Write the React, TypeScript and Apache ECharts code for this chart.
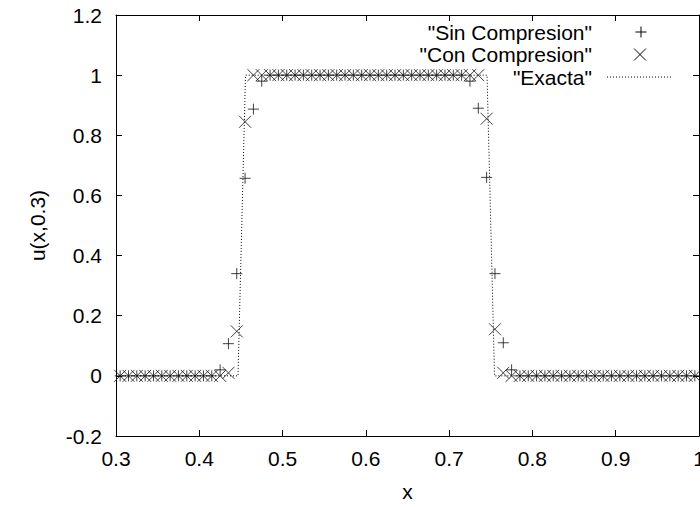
import React, { useEffect, useRef } from "react";
import * as echarts from "echarts";

const FONT = '"Liberation Sans", Arial, Helvetica, sans-serif';

// x positions of the numerical solution (cell centres)
const xs = [
  0.305, 0.315, 0.325, 0.335, 0.345, 0.355, 0.365, 0.375, 0.385, 0.395,
  0.405, 0.415, 0.425, 0.435, 0.445, 0.455, 0.465, 0.475, 0.485, 0.495,
  0.505, 0.515, 0.525, 0.535, 0.545, 0.555, 0.565, 0.575, 0.585, 0.595,
  0.605, 0.615, 0.625, 0.635, 0.645, 0.655, 0.665, 0.675, 0.685, 0.695,
  0.705, 0.715, 0.725, 0.735, 0.745, 0.755, 0.765, 0.775, 0.785, 0.795,
  0.805, 0.815, 0.825, 0.835, 0.845, 0.855, 0.865, 0.875, 0.885, 0.895,
  0.905, 0.915, 0.925, 0.935, 0.945, 0.955, 0.965, 0.975, 0.985, 0.995,
];

const sinCompresion = [
  0, 0, 0, 0, 0, 0, 0, 0, 0, 0,
  0, 0, 0.02, 0.107, 0.34, 0.657, 0.887, 0.98, 1, 1,
  1, 1, 1, 1, 1, 1, 1, 1, 1, 1,
  1, 1, 1, 1, 1, 1, 1, 1, 1, 1,
  1, 1, 0.98, 0.89, 0.66, 0.34, 0.11, 0.02, 0, 0,
  0, 0, 0, 0, 0, 0, 0, 0, 0, 0,
  0, 0, 0, 0, 0, 0, 0, 0, 0, 0,
];

const conCompresion = [
  0, 0, 0, 0, 0, 0, 0, 0, 0, 0,
  0, 0, 0, 0.01, 0.148, 0.845, 1, 1, 1, 1,
  1, 1, 1, 1, 1, 1, 1, 1, 1, 1,
  1, 1, 1, 1, 1, 1, 1, 1, 1, 1,
  1, 1, 1, 1, 0.855, 0.155, 0.01, 0, 0, 0,
  0, 0, 0, 0, 0, 0, 0, 0, 0, 0,
  0, 0, 0, 0, 0, 0, 0, 0, 0, 0,
];

const exactX = [0.3, 0.4465, 0.4555, 0.7455, 0.7545, 1.0];
const exactY = [0, 0, 1, 1, 0, 0];

const seriesNames = ['"Sin Compresion"', '"Con Compresion"', '"Exacta"'];

const xTickMin = 0.3;
const xTickMax = 1.0;
const xTickStep = 0.1;
const yTickMin = -0.2;
const yTickMax = 1.2;
const yTickStep = 0.2;

const fmt = (v: number) => String(Math.round(v * 10) / 10);

const axisLineStyle = { show: true, onZero: false, lineStyle: { color: "#000", width: 1 } };
const tickStyle = { show: true, inside: true, length: 6, lineStyle: { color: "#000", width: 1 } };
const labelStyle = { color: "#000", fontSize: 21, fontFamily: FONT };

const PLUS = "path://M0,5L10,5M5,0L5,10";
const CROSS = "path://M0,0L10,10M10,0L0,10";

function buildOption() {
  const lineStroke = { stroke: "#000", lineWidth: 1 };
  const legendText = (t: string, x: number, y: number) => ({
    type: "text",
    x,
    y,
    style: {
      text: t,
      align: "right",
      verticalAlign: "middle",
      fontSize: 21,
      fontFamily: FONT,
      fill: "#000",
    },
  });
  return {
    animation: false,
    backgroundColor: "#fff",
    grid: {
      left: 116,
      right: 1,
      top: 15,
      bottom: 71,
      containLabel: false,
      outerBoundsMode: "none",
    },
    xAxis: [
      {
        type: "value",
        position: "bottom",
        min: xTickMin,
        max: xTickMax,
        interval: xTickStep,
        axisLine: axisLineStyle,
        axisTick: tickStyle,
        axisLabel: { ...labelStyle, margin: 12, formatter: fmt },
        splitLine: { show: false },
        name: "x",
        nameLocation: "middle",
        nameGap: 45,
        nameTextStyle: labelStyle,
      },
      {
        type: "value",
        position: "top",
        min: xTickMin,
        max: xTickMax,
        interval: xTickStep,
        axisLine: axisLineStyle,
        axisTick: tickStyle,
        axisLabel: { show: false },
        splitLine: { show: false },
      },
    ],
    yAxis: [
      {
        type: "value",
        position: "left",
        min: yTickMin,
        max: yTickMax,
        interval: yTickStep,
        axisLine: axisLineStyle,
        axisTick: tickStyle,
        axisLabel: { ...labelStyle, margin: 14, formatter: fmt },
        splitLine: { show: false },
        name: "u(x,0.3)",
        nameLocation: "middle",
        nameGap: 68,
        nameRotate: 90,
        nameTextStyle: labelStyle,
      },
      {
        type: "value",
        position: "right",
        min: yTickMin,
        max: yTickMax,
        interval: yTickStep,
        axisLine: axisLineStyle,
        axisTick: tickStyle,
        axisLabel: { show: false },
        splitLine: { show: false },
      },
    ],
    series: [
      {
        name: seriesNames[2],
        type: "line",
        xAxisIndex: 0,
        yAxisIndex: 0,
        data: exactX.map((x, i) => [x, exactY[i]]),
        symbol: "none",
        lineStyle: { color: "#000", width: 1, type: [1, 2] },
        silent: true,
        z: 1,
      },
      {
        name: seriesNames[0],
        type: "scatter",
        xAxisIndex: 0,
        yAxisIndex: 0,
        data: xs.map((x, i) => [x, sinCompresion[i]]),
        symbol: PLUS,
        symbolSize: 11,
        itemStyle: { color: "transparent", borderColor: "#111", borderWidth: 1 },
        silent: true,
        z: 2,
      },
      {
        name: seriesNames[1],
        type: "scatter",
        xAxisIndex: 0,
        yAxisIndex: 0,
        data: xs.map((x, i) => [x, conCompresion[i]]),
        symbol: CROSS,
        symbolSize: 12,
        itemStyle: { color: "transparent", borderColor: "#111", borderWidth: 1 },
        silent: true,
        z: 3,
      },
    ],
    graphic: [
      legendText(seriesNames[0], 592, 32),
      legendText(seriesNames[1], 592, 54.5),
      legendText(seriesNames[2], 592, 77),
      {
        type: "group",
        x: 641,
        y: 32,
        children: [
          { type: "line", shape: { x1: -5.5, y1: 0, x2: 5.5, y2: 0 }, style: lineStroke },
          { type: "line", shape: { x1: 0, y1: -5.5, x2: 0, y2: 5.5 }, style: lineStroke },
        ],
      },
      {
        type: "group",
        x: 640,
        y: 54.5,
        children: [
          { type: "line", shape: { x1: -6, y1: -6, x2: 6, y2: 6 }, style: lineStroke },
          { type: "line", shape: { x1: 6, y1: -6, x2: -6, y2: 6 }, style: lineStroke },
        ],
      },
      {
        type: "line",
        shape: { x1: 607, y1: 77, x2: 673, y2: 77 },
        style: { stroke: "#000", lineWidth: 1, lineDash: [1, 2] },
      },
    ],
  };
}

export default function App() {
  const ref = useRef<HTMLDivElement>(null);
  useEffect(() => {
    document.body.style.margin = "0";
    if (!ref.current) return;
    const chart = echarts.init(ref.current, null, { renderer: "svg" });
    chart.setOption(buildOption() as any);
    return () => chart.dispose();
  }, []);
  return (
    <div
      ref={ref}
      style={{ width: 700, height: 507, position: "absolute", left: 0, top: 0 }}
    />
  );
}
